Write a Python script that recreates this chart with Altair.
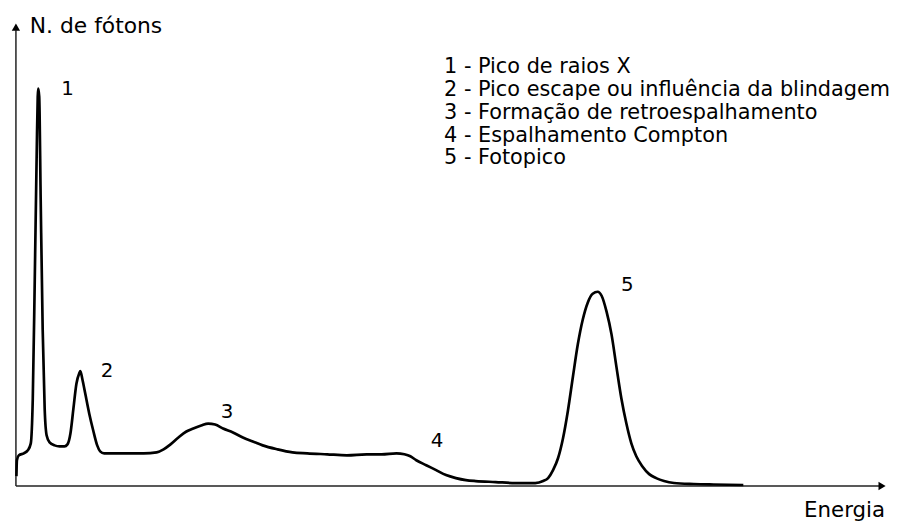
import altair as alt
import pandas as pd

# Spectrum (arbitrary units: energy channel, photon count)
energy = [0.5, 1, 3, 8, 12, 15, 17, 19, 21, 22, 22.5, 23.5, 25, 27, 29, 31, 34, 39, 44, 49,
          52, 55, 58, 61, 64, 65, 67, 70, 74, 78, 82, 85, 89, 99, 114, 129, 142, 149, 156,
          164, 172, 179, 187, 194, 201, 209, 219, 229, 239, 249, 264, 279, 294, 314, 334,
          354, 369, 384, 392, 398, 404, 414, 424, 434, 444, 454, 464, 484, 504, 524, 532,
          537, 542, 547, 552, 557, 562, 567, 572, 577, 582, 587, 591, 596, 601, 606, 611,
          616, 621, 626, 632, 639, 646, 654, 664, 684, 704, 734]
photons = [10, 26, 31, 33, 36, 43, 88, 208, 338, 393, 401, 393, 288, 158, 78, 51, 44, 41, 40, 40,
           42, 53, 78, 103, 114, 116, 108, 93, 73, 56, 41, 35, 33, 33, 33, 33, 34, 37, 42,
           49, 55, 58, 61, 63, 62, 58, 54, 49, 45, 41, 37, 34, 33, 32, 31, 32, 32, 33,
           32, 30, 26, 21, 16, 11, 8, 6, 5, 4, 3, 3, 5,
           8, 16, 28, 48, 76, 110, 143, 168, 185, 194, 196, 192, 176, 153, 120, 88,
           63, 43, 30, 20, 12, 8, 5, 3, 2, 1.5, 1]

peak_labels = ["1", "2", "3", "4", "5"]
peak_label_energy = [52, 92, 213, 425, 617]
peak_label_photons = [401, 116, 75, 45, 203]

legend_lines = [
    "1 - Pico de raios X",
    "2 - Pico escape ou influência da blindagem",
    "3 - Formação de retroespalhamento",
    "4 - Espalhamento Compton",
    "5 - Fotopico",
]
legend_photons = [423, 400, 376, 353, 331]

X_MAX, Y_MAX = 879, 468
FONT = "DejaVu Sans"

xs = alt.Scale(domain=[0, X_MAX], nice=False, zero=False)
ys = alt.Scale(domain=[0, Y_MAX], nice=False, zero=False)

spec = pd.DataFrame({"Energia": energy, "N": photons})
curve = alt.Chart(spec).mark_line(color="black", strokeWidth=2.7, interpolate="monotone").encode(
    x=alt.X("Energia:Q", scale=xs, axis=None),
    y=alt.Y("N:Q", scale=ys, axis=None),
)

axes_df = pd.DataFrame({"x": [0, 0], "y": [0, 0], "x2": [873, 0], "y2": [0, 460]})
axes = alt.Chart(axes_df).mark_rule(color="#222222", strokeWidth=1.5).encode(
    x=alt.X("x:Q", scale=xs, axis=None), y=alt.Y("y:Q", scale=ys, axis=None),
    x2="x2:Q", y2="y2:Q",
)

arrows_df = pd.DataFrame({"x": [874, 0], "y": [0, 463], "shape": ["triangle-right", "triangle-up"]})
arrows = alt.Chart(arrows_df).mark_point(filled=True, color="black", size=70, opacity=1).encode(
    x=alt.X("x:Q", scale=xs, axis=None), y=alt.Y("y:Q", scale=ys, axis=None),
    shape=alt.Shape("shape:N", scale=None, legend=None),
)

nums = alt.Chart(pd.DataFrame({"t": peak_labels, "x": peak_label_energy, "y": peak_label_photons})).mark_text(
    font=FONT, fontSize=20, color="black", align="center", baseline="middle"
).encode(x=alt.X("x:Q", scale=xs, axis=None), y=alt.Y("y:Q", scale=ys, axis=None), text="t:N")

leg = alt.Chart(pd.DataFrame({"t": legend_lines, "x": [432] * 5, "y": legend_photons})).mark_text(
    font=FONT, fontSize=21, color="black", align="left", baseline="middle"
).encode(x=alt.X("x:Q", scale=xs, axis=None), y=alt.Y("y:Q", scale=ys, axis=None), text="t:N")

titles_df = pd.DataFrame({"t": ["N. de fótons", "Energia"], "x": [14, 877], "y": [464, -25]})
ytitle = alt.Chart(titles_df.iloc[[0]]).mark_text(
    font=FONT, fontSize=22, color="black", align="left", baseline="middle"
).encode(x=alt.X("x:Q", scale=xs, axis=None), y=alt.Y("y:Q", scale=ys, axis=None), text="t:N")
xtitle = alt.Chart(titles_df.iloc[[1]]).mark_text(
    font=FONT, fontSize=21.5, color="black", align="right", baseline="middle"
).encode(x=alt.X("x:Q", scale=xs, axis=None), y=alt.Y("y:Q", scale=ys, axis=None), text="t:N")

chart = alt.layer(axes, arrows, curve, nums, leg, ytitle, xtitle).properties(
    width=X_MAX, height=Y_MAX,
    autosize=alt.AutoSizeParams(type="none"),
    padding={"left": 8, "top": 12, "right": 2, "bottom": 38},
    background="white",
).configure_view(stroke=None)

chart.save("out.html", embed_options={"renderer": "svg", "actions": False})
